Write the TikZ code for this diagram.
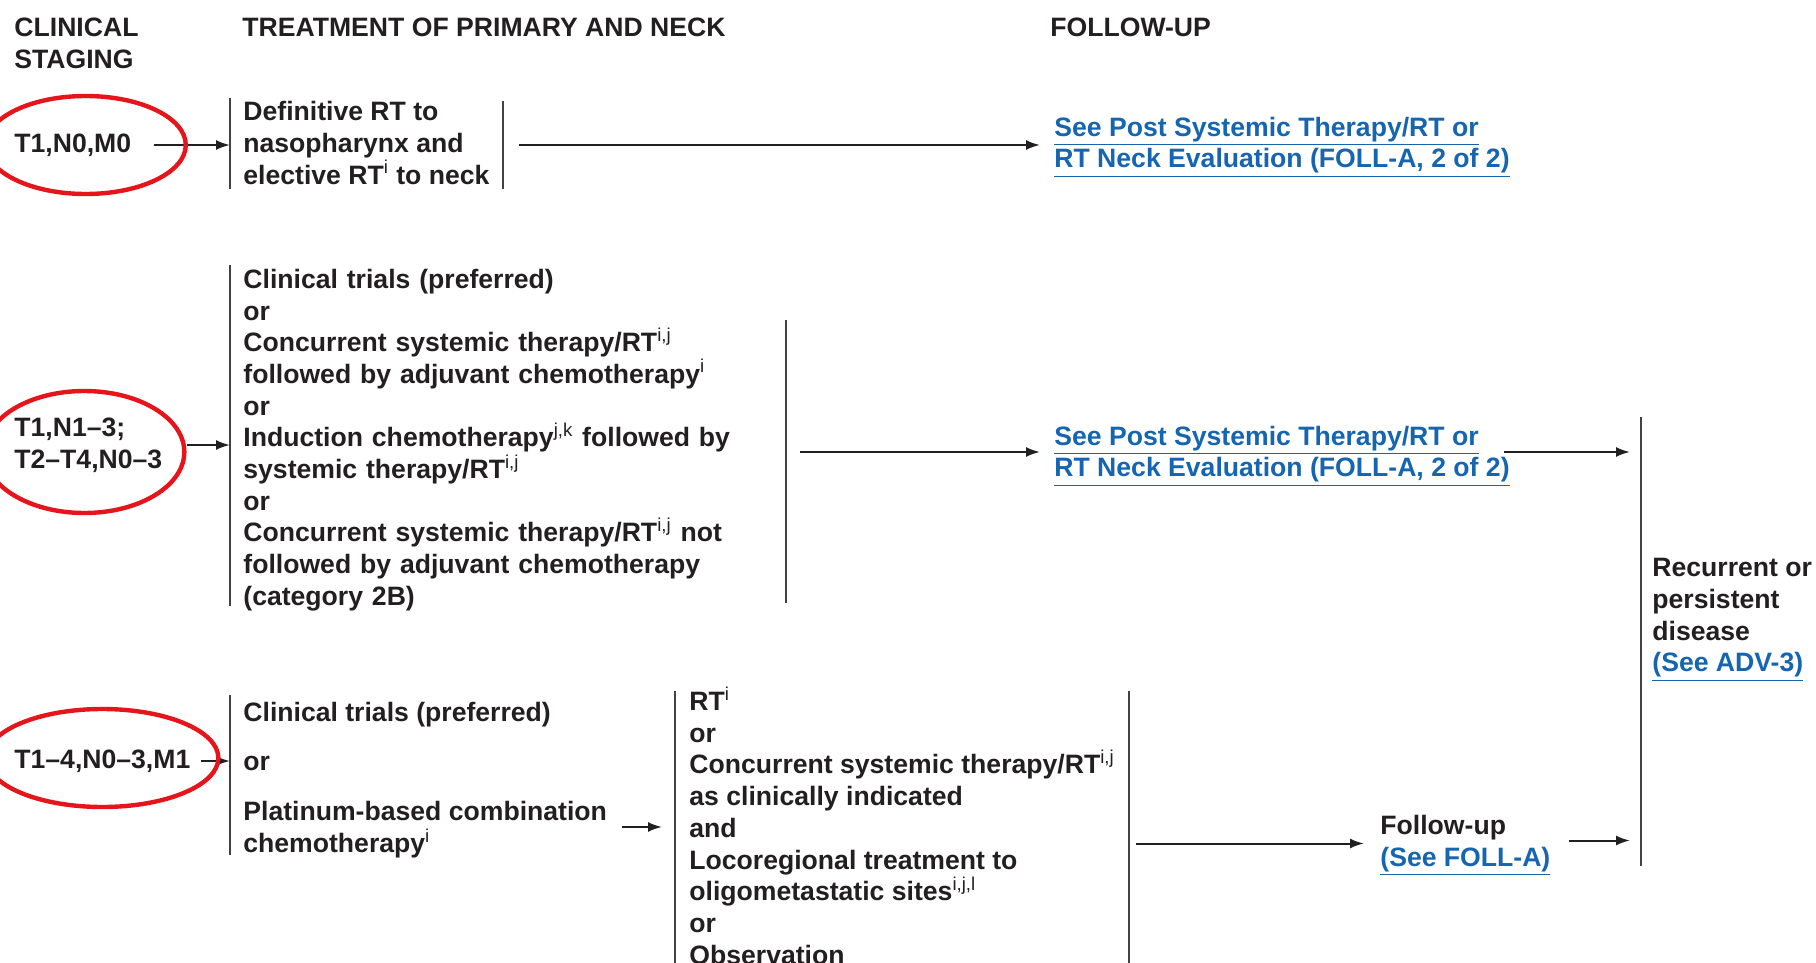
\documentclass[tikz,border=0pt]{standalone}
\usepackage{fontspec}
\setmainfont{Liberation Sans}
\usepackage{xcolor}
\usetikzlibrary{shapes.geometric, arrows.meta}
\definecolor{inkgray}{RGB}{35,31,32}
\definecolor{linkblue}{RGB}{21,101,176}
\definecolor{markred}{RGB}{230,20,27}
\newcommand{\lnk}[1]{\textcolor{linkblue}{\underline{#1}}}
\newcommand{\fn}[1]{\textsuperscript{\mdseries #1}}

\begin{document}
\begin{tikzpicture}[x=0.5pt,y=-0.5pt]
			\tikzstyle{txt} = [anchor=west,align=left,inner sep=0pt,text=inkgray,font=\bfseries\fontsize{13.3}{15.85}\selectfont]
			\tikzstyle{block} = [txt,inner xsep=6.5pt]
			\tikzstyle{bar} = [draw=inkgray!85,line width=0.9pt]
			\tikzstyle{arr} = [-{Latex[length=7pt,width=5pt]},draw=inkgray,line width=1pt]
			\tikzstyle{ring} = [draw=markred,line width=2.2pt]
			\useasboundingbox (0,0) rectangle (1816,963);
			% column heads
			\node[txt] (hstage) at (14,43) {CLINICAL\\STAGING};
			\node[txt] (htreat) at (242,27) {TREATMENT OF PRIMARY AND NECK};
			\node[txt] (hfollow) at (1050,27) {FOLLOW-UP};
			% T1,N0,M0
			\node[txt] (st1) at (14,145) {T1,N0,M0};
			\node[block] (trt1) at (230,143) {Definitive RT to\\nasopharynx and\\elective RT\fn{i} to neck};
			\node[txt,inner xsep=4pt] (link1) at (1046,147) {\lnk{See Post Systemic Therapy/RT or}\\\lnk{RT Neck Evaluation (FOLL-A, 2 of 2)}};
			\draw[bar] (trt1.west) ++(0,-45) -- ++(0,91);
			\draw[bar] (trt1.east) ++(0,-42) -- ++(0,88);
			\draw[arr,shorten <=11pt] (st1.east) -- (st1.east -| trt1.west);
			\draw[arr,shorten <=8pt,shorten >=3pt] (trt1.east |- st1.east) -- (st1.east -| link1.west);
			% T1,N1-3 / T2-T4,N0-3
			\node[txt] (st2) at (14,445) {T1,N1--3;\\T2--T4,N0--3};
			\node[block,text width=264.5pt] (trt2) at (230,440) {Clinical trials (preferred)\\
				or\\
				Concurrent systemic therapy/RT\fn{i,j}\\
				followed by adjuvant chemotherapy\fn{i}\\
				or\\
				Induction chemotherapy\fn{j,k} followed by\\
				systemic therapy/RT\fn{i,j}\\
				or\\
				Concurrent systemic therapy/RT\fn{i,j} not\\
				followed by adjuvant chemotherapy\\
				(category 2B)};
			\node[txt,inner xsep=4pt] (link2) at (1046,456) {\lnk{See Post Systemic Therapy/RT or}\\\lnk{RT Neck Evaluation (FOLL-A, 2 of 2)}};
			\node[txt,inner xsep=5.5pt] (rec) at (1641,620) {Recurrent or\\persistent\\disease\\\lnk{(See ADV-3)}};
			\draw[bar] (trt2.west) ++(0,-175) -- ++(0,341);
			\draw[bar] (trt2.east) ++(0,-120) -- ++(0,283);
			\draw[bar] (rec.west) ++(0,-203) -- ++(0,449);
			\draw[arr,shorten <=12pt] (st2.east) -- (st2.east -| trt2.west);
			\draw[arr,shorten <=7pt,shorten >=3pt] ([yshift=2pt]trt2.east |- link2.west) -- ([yshift=2pt]link2.west);
			\draw[arr,shorten >=5.5pt] ([xshift=-7pt,yshift=2pt]link2.east) -- ([yshift=2pt]link2.east -| rec.west);
			% T1-4,N0-3,M1
			\node[txt] (st3) at (14,761) {T1--4,N0--3,M1};
			\node[block] (trt3) at (230,780) {Clinical trials (preferred)\\[8.6pt]
				or\\[9.6pt]
				Platinum-based combination\\
				chemotherapy\fn{i}};
			\node[block,inner xsep=7pt] (opt3) at (675,825.5) {RT\fn{i}\\
				or\\
				Concurrent systemic therapy/RT\fn{i,j}\\
				as clinically indicated\\
				and\\
				Locoregional treatment to\\
				oligometastatic sites\fn{i,j,l}\\
				or\\
				Observation};
			\node[txt,inner xsep=4pt] (follow) at (1372,845.5) {Follow-up\\\lnk{(See FOLL-A)}};
			\draw[bar] (trt3.west) ++(0,-85) -- ++(0,160);
			\draw[bar] (opt3.west) ++(0,-135) -- ++(0,290);
			\draw[bar] (opt3.east) ++(0,-135) -- ++(0,290);
			\draw[arr,shorten <=5pt] (st3.east) -- (st3.east -| trt3.west);
			\draw[arr,shorten <=1pt,shorten >=6.5pt] ([yshift=-23.5pt]trt3.east) -- ([yshift=-23.5pt]trt3.east -| opt3.west);
			\draw[arr,shorten <=3.5pt,shorten >=4pt] ([yshift=1pt]opt3.east |- follow.west) -- ([yshift=1pt]follow.west);
			\draw[arr,shorten <=5pt,shorten >=5.5pt] ([yshift=2.5pt]follow.east) -- ([yshift=2.5pt]follow.east -| rec.west);
			% red marks
			\draw[ring] ([xshift=6.5pt]st1.center) ellipse [x radius=50pt, y radius=24.5pt];
			\draw[ring] ([xshift=-2pt,yshift=-3.5pt]st2.center) ellipse [x radius=50pt, y radius=30.5pt];
			\draw[ring] ([yshift=1.5pt]st3.center) ellipse [x radius=58pt, y radius=24.5pt];
\end{tikzpicture}
\end{document}
